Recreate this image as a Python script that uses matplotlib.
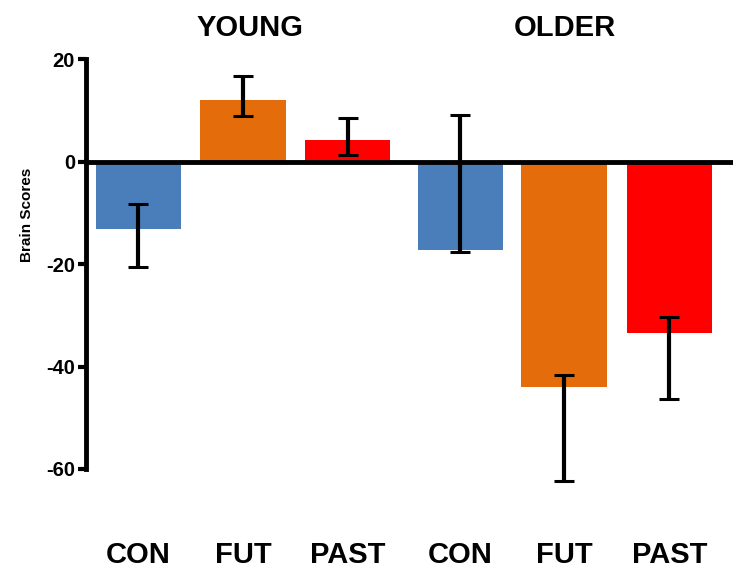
import numpy as np
import matplotlib.pyplot as plt

plt.rcParams['font.family'] = ['Liberation Sans', 'DejaVu Sans']

# Datos
categorias = ['CON', 'FUT', 'PAST', 'CON', 'FUT', 'PAST']
grupos = ['YOUNG', 'OLDER']
puntajes = [-13.2, 12.0, 4.2, -17.3, -44.0, -33.5]
err_sup = [-8.3, 16.7, 8.5, 9.0, -41.7, -30.3]   # extremo superior de la barra de error
err_inf = [-20.6, 8.9, 1.3, -17.6, -62.3, -46.3]  # extremo inferior
colores = ['#4A7EBB', '#E46C0A', '#FF0000', '#4A7EBB', '#E46C0A', '#FF0000']

x = np.array([0, 1, 2, 3.08, 4.07, 5.08])
puntajes = np.array(puntajes)
yerr = [puntajes - np.array(err_inf), np.array(err_sup) - puntajes]

fig = plt.figure(figsize=(7.52, 5.83), dpi=100)
ax = fig.add_axes([0.1144, 0.1604, 0.8606, 0.7471])

ax.bar(x, puntajes, width=0.82, color=colores, zorder=2)
ax.errorbar(x, puntajes, yerr=yerr, fmt='none', ecolor='black', elinewidth=3,
            capsize=7, capthick=2.2, zorder=3, clip_on=False)
ax.axhline(0, color='black', linewidth=3.5, zorder=4)

ax.set_xlim(-0.502, 5.69)
ax.set_ylim(-64, 21)
ax.set_yticks([20, 0, -20, -40, -60])
ax.set_yticklabels(['20', '0', '-20', '-40', '-60'], fontsize=14.5, fontweight='bold')
ax.tick_params(axis='y', length=6, width=3, pad=2)
ax.set_xticks(x)
ax.set_xticklabels(categorias, fontsize=21, fontweight='bold')
ax.tick_params(axis='x', length=0, pad=37)

for s in ['top', 'right', 'bottom']:
    ax.spines[s].set_visible(False)
ax.spines['left'].set_linewidth(3.5)
ax.spines['left'].set_bounds(-60, 20)

ax.set_ylabel('Brain Scores', fontsize=11, fontweight='bold')
ax.yaxis.set_label_coords(-0.081, 0.63)

ax.text(1.067, 26, grupos[0], ha='center', va='center', fontsize=21, fontweight='bold', clip_on=False)
ax.text(4.08, 26, grupos[1], ha='center', va='center', fontsize=21, fontweight='bold', clip_on=False)

plt.savefig('out.png', dpi=100)
